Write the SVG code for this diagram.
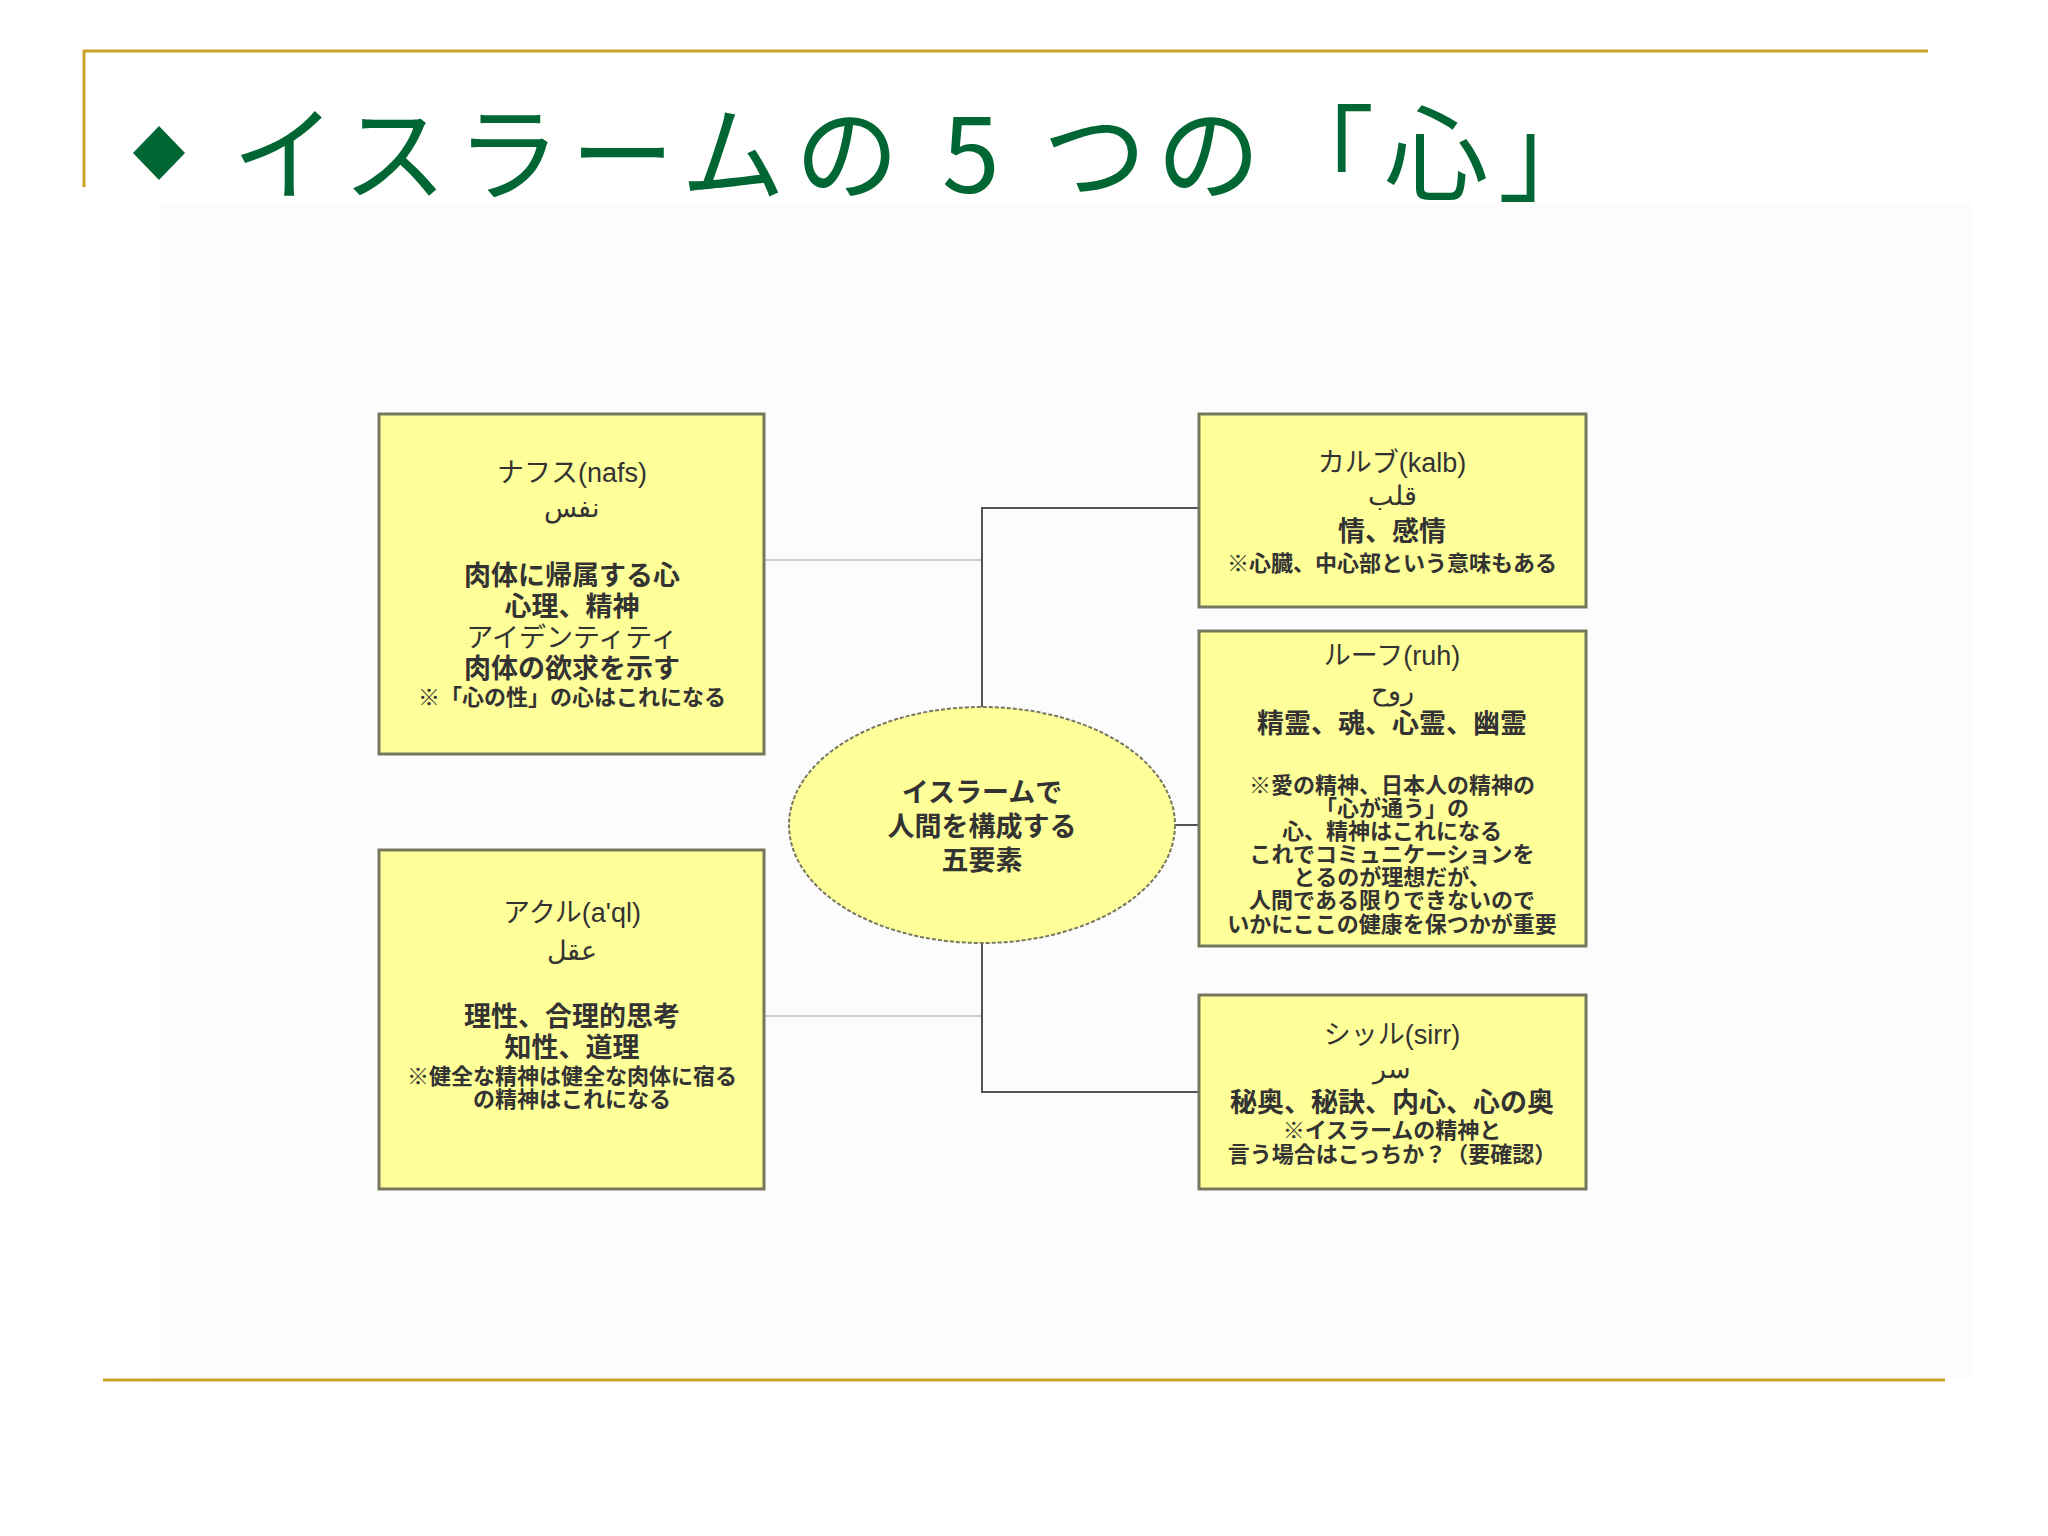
<svg xmlns="http://www.w3.org/2000/svg" width="2048" height="1536" viewBox="0 0 2048 1536">
<style>
.box{fill:#ffff99;stroke:#77775f;stroke-width:3}
.t{font-family:"Liberation Sans","Noto Sans CJK JP",sans-serif;font-size:27px;fill:#333;text-anchor:middle}
.b{font-weight:bold}
.s{font-size:22px}
.ln{stroke:#555;stroke-width:2;fill:none}
.lt{stroke:#ccc;stroke-width:2;fill:none}
.gold{stroke:#c9a227;stroke-width:3;fill:none}
</style>
<rect width="2048" height="1536" fill="#fff"/>
<rect x="159" y="202" width="1812" height="1176" fill="#fcfcfc"/>
<path class="gold" d="M84 187V51H1928"/>
<path class="gold" d="M103 1380H1945"/>
<path d="M159 126L185 153L159 180L133 153Z" fill="#006633"/>
<text x="232" y="193" font-family="'Noto Sans CJK JP',sans-serif" font-size="104" fill="#006633" textLength="1370" lengthAdjust="spacing">イスラームの 5 つの「心」</text>
<g id="connectors">
<path class="lt" d="M764 560H982"/>
<path class="lt" d="M764 1016H982"/>
<path class="ln" d="M982 707V508H1199"/>
<path class="ln" d="M1175 825H1199"/>
<path class="ln" d="M982 943V1092H1199"/>
</g>
<g id="nafs">
<rect class="box" x="379" y="414" width="385" height="340"/>
<text class="t" x="572" y="482">ナフス(nafs)</text>
<text class="t" x="572" y="517">نفس</text>
<text class="t b" x="572" y="585">肉体に帰属する心</text>
<text class="t b" x="572" y="616">心理、精神</text>
<text class="t" x="572" y="647">アイデンティティ</text>
<text class="t b" x="572" y="678">肉体の欲求を示す</text>
<text class="t b s" x="572" y="705">※「心の性」の心はこれになる</text>
</g>
<g id="kalb">
<rect class="box" x="1199" y="414" width="387" height="193"/>
<text class="t" x="1392" y="472">カルブ(kalb)</text>
<text class="t" x="1392" y="505">قلب</text>
<text class="t b" x="1392" y="541">情、感情</text>
<text class="t b s" x="1392" y="571">※心臓、中心部という意味もある</text>
</g>
<g id="ruh">
<rect class="box" x="1199" y="631" width="387" height="315"/>
<text class="t" x="1392" y="665">ルーフ(ruh)</text>
<text class="t" x="1392" y="700">روح</text>
<text class="t b" x="1392" y="733">精霊、魂、心霊、幽霊</text>
<text class="t b s" x="1392" y="793">※愛の精神、日本人の精神の</text>
<text class="t b s" x="1392" y="816">「心が通う」の</text>
<text class="t b s" x="1392" y="839">心、精神はこれになる</text>
<text class="t b s" x="1392" y="862">これでコミュニケーションを</text>
<text class="t b s" x="1392" y="885">とるのが理想だが、</text>
<text class="t b s" x="1392" y="908">人間である限りできないので</text>
<text class="t b s" x="1392" y="932">いかにここの健康を保つかが重要</text>
</g>
<g id="center">
<ellipse cx="982" cy="825" rx="193" ry="118" fill="#ffff99" stroke="#77775f" stroke-width="2" stroke-dasharray="4 2"/>
<text class="t b" x="982" y="802" font-size="30">イスラームで</text>
<text class="t b" x="982" y="836" font-size="30">人間を構成する</text>
<text class="t b" x="982" y="870" font-size="30">五要素</text>
</g>
<g id="akl">
<rect class="box" x="379" y="850" width="385" height="339"/>
<text class="t" x="572" y="922">アクル(a'ql)</text>
<text class="t" x="572" y="960">عقل</text>
<text class="t b" x="572" y="1026">理性、合理的思考</text>
<text class="t b" x="572" y="1057">知性、道理</text>
<text class="t b s" x="572" y="1084">※健全な精神は健全な肉体に宿る</text>
<text class="t b s" x="572" y="1107">の精神はこれになる</text>
</g>
<g id="sirr">
<rect class="box" x="1199" y="995" width="387" height="194"/>
<text class="t" x="1392" y="1044">シッル(sirr)</text>
<text class="t" x="1392" y="1078">سر</text>
<text class="t b" x="1392" y="1112">秘奥、秘訣、内心、心の奥</text>
<text class="t b s" x="1392" y="1138">※イスラームの精神と</text>
<text class="t b s" x="1392" y="1162">言う場合はこっちか？（要確認）</text>
</g>
</svg>
